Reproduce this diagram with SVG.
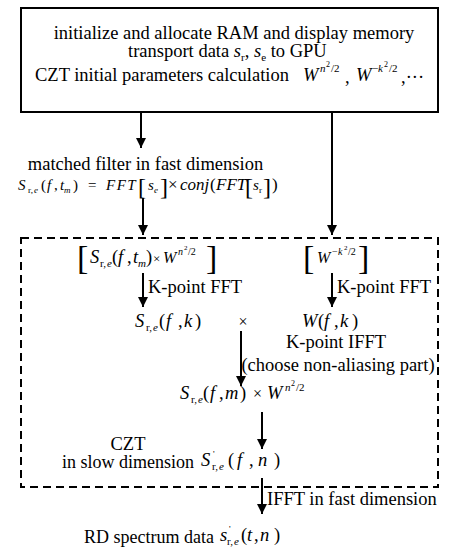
<svg xmlns="http://www.w3.org/2000/svg" width="453" height="554" viewBox="0 0 453 554">
<defs>
<marker id="ah" markerWidth="10" markerHeight="12" refX="10" refY="5" orient="auto" markerUnits="userSpaceOnUse">
<path d="M0,0 L10,5 L0,10 Z" fill="#000"/>
</marker>
<style>
text{font-family:"Liberation Serif","Times New Roman",serif;fill:#000}
.t{font-size:18.5px}
.i{font-style:italic}
.sm{font-size:11px}
.s10{font-size:10px}
.xs{font-size:8px}
.x7{font-size:7px}
.m{font-size:15px}
.s9{font-size:9px}
.br{font-size:34px}
.br2{font-size:24px}
.conn line{stroke:#000;stroke-width:2;marker-end:url(#ah)}
</style>
</defs>
<rect width="453" height="554" fill="#fff"/>

<g id="init">
<rect x="21" y="8" width="417" height="104" fill="#fff" stroke="#000" stroke-width="2"/>
<text class="t" x="234" y="39" text-anchor="middle">initialize and allocate RAM and display memory</text>
<text class="t" x="128" y="57">transport data <tspan class="i">s</tspan><tspan class="sm" y="61">r</tspan><tspan y="57">, </tspan><tspan class="i">s</tspan><tspan class="sm" y="61">e</tspan><tspan y="57"> to GPU</tspan></text>
<text class="t" x="35" y="81">CZT initial parameters calculation</text>
<text class="t" y="81"><tspan class="i" x="303">W</tspan><tspan class="sm i" x="320" y="72">n</tspan><tspan class="xs" x="326" y="67">2</tspan><tspan class="sm" x="331" y="72">/2</tspan><tspan x="345" y="83">,</tspan><tspan class="i" x="356" y="81">W</tspan><tspan class="sm" x="372" y="72">−</tspan><tspan class="sm i" x="378">k</tspan><tspan class="xs" x="384" y="67">2</tspan><tspan class="sm" x="389" y="72">/2</tspan><tspan x="401" y="83">,···</tspan></text>
</g>

<g id="matched-filter">
<text class="t" x="145.5" y="170" text-anchor="middle">matched filter in fast dimension</text>
<text class="m" y="190"><tspan class="i" x="18">S</tspan><tspan class="s9" x="28" y="193">r,</tspan><tspan class="s9 i" x="34">e</tspan><tspan x="41" y="190">(</tspan><tspan class="i" x="47">f</tspan><tspan x="54">,</tspan><tspan class="i" x="60">t</tspan><tspan class="s9 i" x="64" y="193">m</tspan><tspan x="73" y="190">)</tspan><tspan x="88">=</tspan><tspan class="i" x="106" style="letter-spacing:1.5px">FFT</tspan></text>
<text class="br2" x="138" y="195">[</text>
<text class="m" y="190"><tspan class="i" x="148">s</tspan><tspan class="s9 i" x="154" y="193">e</tspan></text>
<text class="br2" x="160" y="195">]</text>
<text y="190" style="font-size:17px"><tspan x="168">×</tspan><tspan class="i" x="180">conj</tspan><tspan x="210">(</tspan><tspan class="i" x="216">FFT</tspan></text>
<text class="br2" x="245" y="195">[</text>
<text class="m" y="190"><tspan class="i" x="253">s</tspan><tspan class="s9" x="259" y="193">r</tspan></text>
<text class="br2" x="263" y="195">]</text>
<text x="272" y="190" style="font-size:17px">)</text>
</g>

<g id="czt-block">
<rect x="21" y="238" width="417" height="249" fill="none" stroke="#000" stroke-width="2" stroke-dasharray="8,5"/>
</g>

<g id="chirp-left">
<text class="br" x="77" y="269">[</text>
<text class="t" y="263"><tspan class="i" x="90">S</tspan><tspan class="sm" x="100" y="267">r,</tspan><tspan class="sm i" x="107">e</tspan><tspan x="112" y="263">(</tspan><tspan class="i" x="118">f</tspan><tspan x="127">,</tspan><tspan class="i" x="133">t</tspan><tspan class="sm i" x="138" y="267">m</tspan><tspan x="146" y="263">)</tspan><tspan style="font-size:13px" x="153">×</tspan><tspan class="i" style="font-size:16px" x="163">W</tspan><tspan class="s10 i" x="178" y="255">n</tspan><tspan class="x7" x="184" y="250">2</tspan><tspan class="s10" x="188" y="255">/2</tspan></text>
<text class="br" x="206" y="269">]</text>
</g>

<g id="chirp-right">
<text class="br" x="303" y="269">[</text>
<text y="263"><tspan class="i" style="font-size:16px" x="317">W</tspan><tspan class="s10" x="332" y="255">−</tspan><tspan class="s10 i" x="338">k</tspan><tspan class="x7" x="344" y="250">2</tspan><tspan class="s10" x="348" y="255">/2</tspan></text>
<text class="br" x="358" y="269">]</text>
</g>

<g id="fft-left">
<text class="t" y="327"><tspan class="i" x="135">S</tspan><tspan class="sm" x="146" y="331">r,</tspan><tspan class="sm i" x="153">e</tspan><tspan x="159" y="327">(</tspan><tspan class="i" x="166">f</tspan><tspan x="178">,</tspan><tspan class="i" x="184">k</tspan><tspan x="195">)</tspan></text>
</g>
<g id="times">
<text x="243" y="327" text-anchor="middle" style="font-size:16px">×</text>
</g>
<g id="fft-right">
<text class="t" y="327"><tspan class="i" x="302">W</tspan><tspan x="318">(</tspan><tspan class="i" x="324">f</tspan><tspan x="334">,</tspan><tspan class="i" x="340">k</tspan><tspan x="352">)</tspan></text>
<text class="t" x="336" y="348" text-anchor="middle">K-point IFFT</text>
<text class="t" x="338" y="371" text-anchor="middle">(choose non-aliasing part)</text>
</g>

<g id="product">
<text class="t" y="399"><tspan class="i" x="180">S</tspan><tspan class="sm" x="191" y="403">r,</tspan><tspan class="sm i" x="198">e</tspan><tspan x="203" y="399">(</tspan><tspan class="i" x="210">f</tspan><tspan x="219">,</tspan><tspan class="i" x="225">m</tspan><tspan x="240">)</tspan><tspan style="font-size:16px" x="253">×</tspan><tspan class="i" x="267">W</tspan><tspan class="sm i" x="285" y="391">n</tspan><tspan class="xs" x="291" y="386">2</tspan><tspan class="sm" x="296" y="391">/2</tspan></text>
</g>

<g id="czt-result">
<text class="t" x="128" y="450" text-anchor="middle">CZT</text>
<text x="62" y="468" style="font-size:18px">in slow dimension</text>
<text class="t" y="466"><tspan class="i" x="201">S</tspan><tspan class="s9" x="213" y="457">'</tspan><tspan class="sm" x="212" y="470">r,</tspan><tspan class="sm i" x="219">e</tspan><tspan x="228" y="466">(</tspan><tspan class="i" x="237">f</tspan><tspan x="249">,</tspan><tspan class="i" x="258">n</tspan><tspan x="274">)</tspan></text>
</g>

<g id="rd-spectrum">
<text x="84" y="543" style="font-size:18px">RD spectrum data</text>
<text class="t" y="541"><tspan class="i" x="220">s</tspan><tspan class="s9" x="229" y="532">'</tspan><tspan class="sm" x="227" y="545">r,</tspan><tspan class="sm i" x="234">e</tspan><tspan x="241" y="541">(</tspan><tspan class="i" x="247">t</tspan><tspan x="254">,</tspan><tspan class="i" x="260">n</tspan><tspan x="274">)</tspan></text>
</g>

<g id="connectors" class="conn">
<line x1="141" y1="112" x2="141" y2="148"/>
<line x1="143" y1="198" x2="143" y2="235"/>
<line x1="332" y1="112" x2="332" y2="235"/>
<line x1="143" y1="273" x2="143" y2="307"/>
<line x1="332" y1="273" x2="332" y2="307"/>
<line x1="241" y1="331" x2="241" y2="386"/>
<line x1="262" y1="412" x2="262" y2="449"/>
<line x1="262" y1="478" x2="262" y2="514"/>
</g>
<g id="labels">
<text class="t" x="148" y="293">K-point FFT</text>
<text class="t" x="337" y="293">K-point FFT</text>
<text class="t" x="267" y="505">IFFT in fast dimension</text>
</g>
</svg>
